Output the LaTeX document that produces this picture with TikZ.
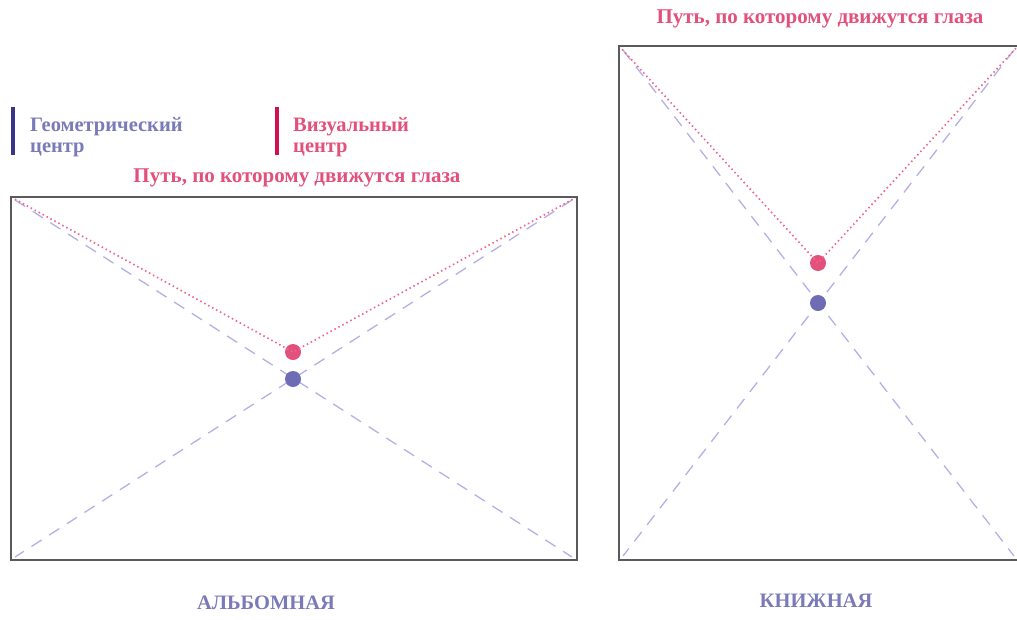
\documentclass[tikz,border=0pt]{standalone}
\usepackage{fontspec}
\setmainfont{Liberation Serif}
\definecolor{boxgray}{HTML}{5A5A5A}
\definecolor{diaglav}{HTML}{B4B0E6}
\definecolor{pathpink}{HTML}{EC6890}
\definecolor{vispink}{HTML}{E2507C}
\definecolor{geoblue}{HTML}{6E6CB4}
\definecolor{geotext}{HTML}{7A7AB8}
\definecolor{barindigo}{HTML}{3A3488}
\definecolor{barcrimson}{HTML}{D01050}
\begin{document}
\begin{tikzpicture}[x=1pt,y=-1pt,
  frame/.style={draw=boxgray,line width=2pt},
  diag/.style={draw=diaglav,line width=1.3pt,dash pattern=on 12pt off 9pt},
  eyepath/.style={draw=pathpink,line width=1.7pt,dash pattern=on 1.5pt off 3pt},
  vdot/.style={circle,fill=vispink,inner sep=0pt,minimum size=16pt},
  gdot/.style={circle,fill=geoblue,inner sep=0pt,minimum size=16pt},
  title/.style={font=\bfseries\fontsize{21}{24}\selectfont,text=vispink,inner sep=0pt},
  legend/.style={font=\bfseries\fontsize{20.5}{21}\selectfont,inner sep=0pt,anchor=base west,align=left},
  caption/.style={font=\bfseries\fontsize{20.5}{24}\selectfont,text=geotext,inner sep=0pt}]
\useasboundingbox (0,0) rectangle (1017,619);
% legend
\fill[barindigo] (11,107) rectangle (15,155);
\node[legend,text=geotext] (geolab) at (30,152) {Геометрический\\центр};
\fill[barcrimson] (275,107) rectangle (279,155);
\node[legend,text=vispink] (vislab) at (293,152) {Визуальный\\центр};
% left (landscape)
\coordinate (LTL) at (11,197);
\coordinate (LTR) at (577,197);
\coordinate (LBL) at (11,560);
\coordinate (LBR) at (577,560);
\draw[diag] (15,200) -- (572,557);
\draw[diag] (572,200) -- (15,557);
\node[title] (ltitle) at (297,178) {Путь, по которому движутся глаза};
\node[vdot] (lvis) at (293,352) {};
\node[gdot] (lgeo) at (293,379) {};
\draw[eyepath] (LTL) -- (lvis.center) -- (LTR);
\draw[frame] (LTL) rectangle (LBR);
\node[caption] (lcap) at (266,603) {АЛЬБОМНАЯ};
% right (portrait)
\coordinate (RTL) at (619,46);
\coordinate (RTR) at (1018,46);
\coordinate (RBR) at (1018,560);
\draw[diag] (623,50) -- (1014,556);
\draw[diag] (1014,50) -- (623,556);
\node[title] (rtitle) at (820,19) {Путь, по которому движутся глаза};
\node[vdot] (rvis) at (818,263) {};
\node[gdot] (rgeo) at (818,303) {};
\draw[eyepath] (RTL) -- (rvis.center) -- (RTR);
\draw[frame] (RTL) rectangle (RBR);
\node[caption] (rcap) at (816,601) {КНИЖНАЯ};
\end{tikzpicture}
\end{document}
